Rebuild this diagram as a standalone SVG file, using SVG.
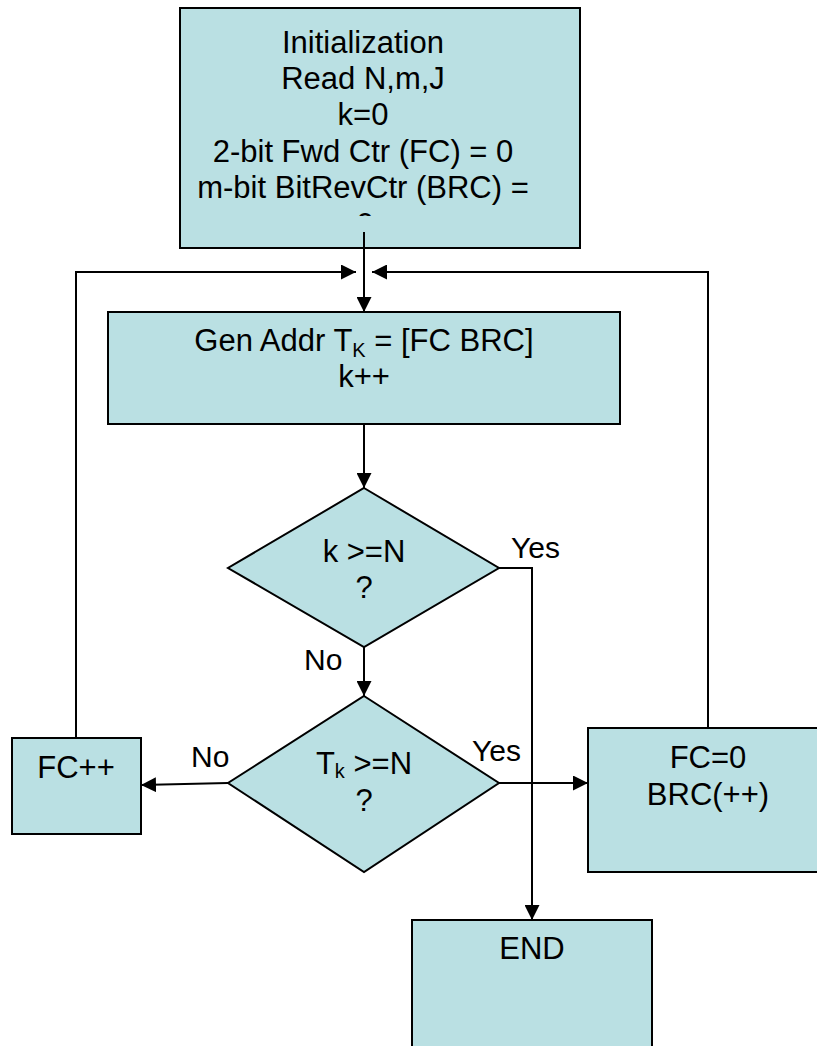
<svg xmlns="http://www.w3.org/2000/svg" width="817" height="1046" viewBox="0 0 817 1046">
<style>
.box{fill:#BAE0E3;stroke:#000;stroke-width:2}
.t{font-family:"Liberation Sans",Arial,sans-serif;font-size:31px;fill:#000;text-anchor:middle}
.lbl{font-family:"Liberation Sans",Arial,sans-serif;font-size:30px;fill:#000}
.c{fill:none;stroke:#000;stroke-width:2}
</style>
<defs>
<marker id="arr" markerUnits="userSpaceOnUse" markerWidth="15" markerHeight="15" refX="15" refY="7.5" orient="auto">
<path d="M0,0 L15,7.5 L0,15 z" fill="#000"/>
</marker>
<clipPath id="clipInit"><rect x="180" y="8" width="400" height="208"/></clipPath>
</defs>
<rect width="817" height="1046" fill="#fff"/>
<g id="init">
<rect class="box" x="180" y="8" width="400" height="240"/>
<g clip-path="url(#clipInit)">
<text class="t" x="363" y="53">Initialization</text>
<text class="t" x="363" y="89">Read N,m,J</text>
<text class="t" x="363" y="125">k=0</text>
<text class="t" x="363" y="162"> 2-bit Fwd Ctr (FC) = 0</text>
<text class="t" x="363" y="198">m-bit BitRevCtr (BRC) =</text>
<text class="t" x="365" y="235">0</text>
</g>
</g>
<g id="genaddr">
<rect class="box" x="108" y="312" width="512" height="112"/>
<text class="t" x="364" y="351">Gen Addr T<tspan font-size="20" dy="6">K</tspan><tspan dy="-6"> = [FC BRC]</tspan></text>
<text class="t" x="364" y="387">k++</text>
</g>
<g id="decision1">
<polygon class="box" points="364,488 499,568 364,647 228,568"/>
<text class="t" x="364" y="562">k &gt;=N</text>
<text class="t" x="364" y="598">?</text>
</g>
<g id="decision2">
<polygon class="box" points="364,696 499,783 364,872 228,783"/>
<text class="t" x="364" y="774">T<tspan font-size="20" dy="4">k</tspan><tspan dy="-4"> &gt;=N</tspan></text>
<text class="t" x="364" y="811">?</text>
</g>
<g id="fcinc">
<rect class="box" x="12" y="738" width="129" height="96"/>
<text class="t" x="76" y="778">FC++</text>
</g>
<g id="fcreset">
<rect class="box" x="588" y="728" width="232" height="144"/>
<text class="t" x="708" y="768">FC=0</text>
<text class="t" x="708" y="805">BRC(++)</text>
</g>
<g id="end">
<rect class="box" x="412" y="920" width="240" height="140"/>
<text class="t" x="532" y="959">END</text>
</g>
<g id="connectors">
<path class="c" d="M364,232 V312" marker-end="url(#arr)"/>
<path class="c" d="M76,738 V272 H356" marker-end="url(#arr)"/>
<path class="c" d="M708,728 V272 H372" marker-end="url(#arr)"/>
<path class="c" d="M364,424 V488" marker-end="url(#arr)"/>
<path class="c" d="M364,647 V696" marker-end="url(#arr)"/>
<path class="c" d="M499,568 H532 V920" marker-end="url(#arr)"/>
<path class="c" d="M228,783 L141,785" marker-end="url(#arr)"/>
<path class="c" d="M499,783 H588" marker-end="url(#arr)"/>
<text class="lbl" x="511" y="558">Yes</text>
<text class="lbl" x="304" y="670">No</text>
<text class="lbl" x="191" y="767">No</text>
<text class="lbl" x="472" y="761">Yes</text>
</g>
</svg>
